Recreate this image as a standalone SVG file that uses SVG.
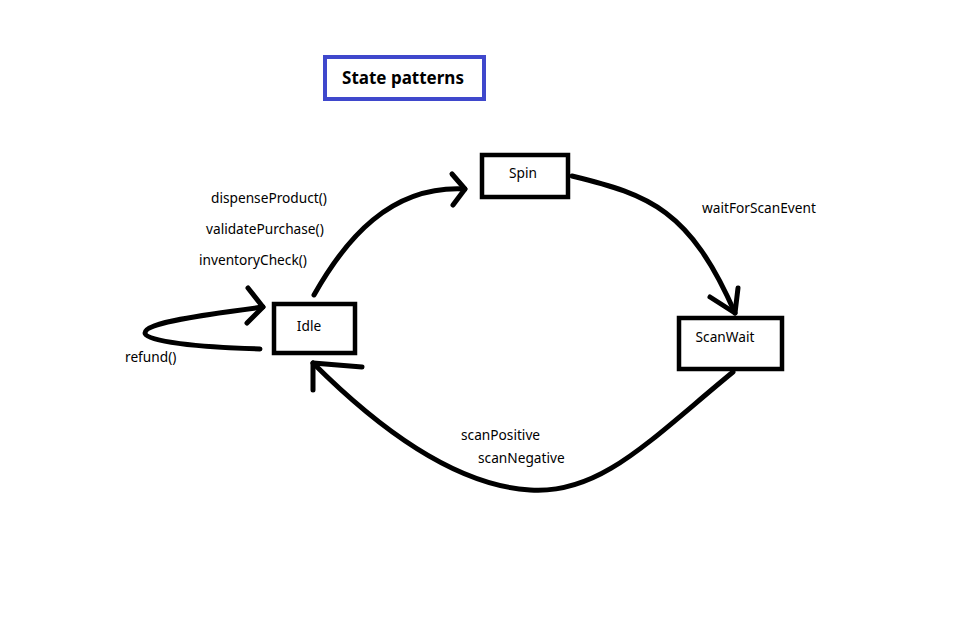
<svg xmlns="http://www.w3.org/2000/svg" width="974" height="630" viewBox="0 0 974 630">
<style>
.box{fill:#fff;stroke:#000;stroke-width:4.5}
.lbl{font-family:"Noto Sans","Open Sans",sans-serif;font-size:13.7px;fill:#000}
.c{fill:none;stroke:#000;stroke-width:5;stroke-linecap:round;stroke-linejoin:round}
</style>
<rect width="974" height="630" fill="#fff"/>
<g id="title">
<rect x="325" y="57" width="159" height="42" fill="#fff" stroke="#3f48cc" stroke-width="4"/>
<text x="403" y="84" text-anchor="middle" font-family="'Noto Sans','Open Sans',sans-serif" font-size="17" font-weight="bold">State patterns</text>
</g>
<g id="connectors">
<path class="c" d="M314,295 C345,240 390,185 465,189"/>
<path class="c" d="M452,174 L465,189 L453,205"/>
<path class="c" d="M572,176 C650,195 690,210 735,313"/>
<path class="c" d="M710,297 L735,313 L738,288"/>
<path class="c" d="M733,372 C650,440 600,495 530,490 C450,485 370,420 313,363"/>
<path class="c" d="M313,390 L313,363 L362,367"/>
<path class="c" d="M260,349 C200,347 145,342 145,333 C145,323 200,315 263,307"/>
<path class="c" d="M248,288 L263,307 L247,323"/>
<text class="lbl" x="211" y="203">dispenseProduct()</text>
<text class="lbl" x="206" y="234">validatePurchase()</text>
<text class="lbl" x="199" y="265">inventoryCheck()</text>
<text class="lbl" x="125" y="362">refund()</text>
<text class="lbl" x="702" y="213">waitForScanEvent</text>
<text class="lbl" x="461" y="440">scanPositive</text>
<text class="lbl" x="478" y="463">scanNegative</text>
</g>
<g id="spin">
<rect class="box" x="482" y="155" width="86" height="42"/>
<text class="lbl" x="523" y="178" text-anchor="middle">Spin</text>
</g>
<g id="idle">
<rect class="box" x="274" y="304" width="81" height="49"/>
<text class="lbl" x="309" y="331" text-anchor="middle">Idle</text>
</g>
<g id="scanwait">
<rect class="box" x="679" y="318" width="103" height="51"/>
<text class="lbl" x="725" y="342" text-anchor="middle">ScanWait</text>
</g>
</svg>
